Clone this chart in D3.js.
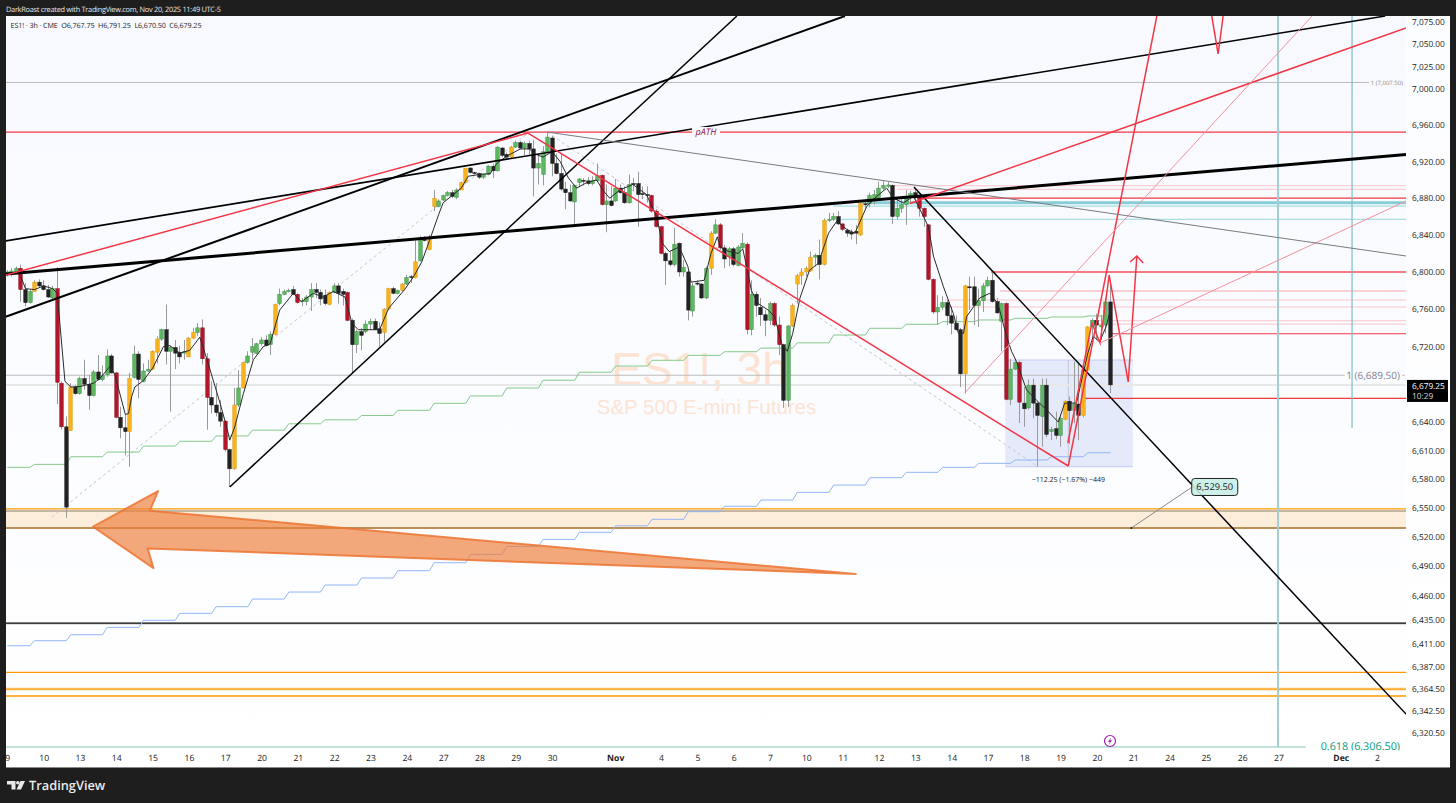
<!DOCTYPE html>
<html><head><meta charset="utf-8">
<script src="https://cdnjs.cloudflare.com/ajax/libs/d3/7.8.5/d3.min.js"></script>
<style>html,body{margin:0;padding:0;background:#1e1e1e;overflow:hidden}svg{display:block}text{font-family:"Open Sans",sans-serif;text-rendering:geometricPrecision}</style>
</head><body><div id="chart"></div>
<script>
const headerText="DarkRoast created with TradingView.com, Nov 20, 2025 11:49 UTC-5";
const legendText="ES1! · 3h · CME  O6,767.75  H6,791.25  L6,670.50  C6,679.25";
const priceTicks=[7075,7050,7025,7000,6960,6920,6880,6840,6800,6760,6720,6640,6610,6580,6550,6520,6490,6460,6435,6411,6387,6364.5,6342.5,6320.5];
const timeTickBars=[0,8,16,24,32,40,48,56,64,72,80,88,96,104,112,120,133.9,144,152,160,168,176,184,192,200,208,216,224,232,240,248,256,264,272,280,293.7,301.7];
const timeTickLabels=["9","10","13","14","15","16","17","20","21","22","23","24","27","28","29","30","Nov","4","5","6","7","10","11","12","13","14","17","18","19","20","21","24","25","26","27","Dec","2"];

const opens=[6797,6797,6799,6804,6781,6767,6779,6789,6785,6781,
6772,6782,6681,6635,6631,6677,6670,6686,6680,6668,
6693,6685,6690,6710,6692,6645,6634,6630,6687,6712,
6683,6694,6696,6714,6728,6738,6715,6719,6714,6713,
6709,6729,6735,6740,6707,6666,6658,6650,6641,6611,
6591,6658,6676,6703,6714,6713,6723,6727,6722,6733,
6766,6776,6779,6781,6776,6768,6768,6773,6781,6778,
6775,6765,6778,6785,6779,6778,6748,6722,6736,6736,
6744,6747,6739,6735,6760,6782,6777,6780,6787,6795,
6794,6812,6835,6824,6871,6871,6878,6883,6886,6881,
6889,6897,6913,6908,6907,6903,6906,6915,6910,6935,
6928,6925,6936,6941,6935,6940,6934,6913,6906,6931,
6946,6918,6907,6890,6886,6876,6897,6899.5,6899,6896,
6899,6905,6873,6877,6877,6891,6886,6875,6896,6896,
6885,6884,6883,6866,6849,6820,6812,6808,6831,6800,
6800,6758,6788,6787,6772,6804,6842,6851,6826,6817,
6825,6807,6826,6830,6738,6776,6762,6754,6748,6766,
6743,6722,6663,6742,6787,6796,6800,6801,6816,6818,
6808,6856,6857,6860,6852,6845,6843,6844,6840,6874,
6874,6879,6880,6891,6893,6894,6860,6869,6873,6882,
6886,6881,6869,6851,6792,6757,6762,6767,6753,6745,
6738,6691,6784,6784,6764,6769,6785,6791,6768,6747,
6766,6664,6696,6703,6660,6655,6679,6660,6646,6679,
6630,6633,6626,6643,6662,6652,6659,6647,6695,6741,
6748,6741,6743,6767.75];
const highs=[6802,6804,6806,6808,6788,6781,6791,6792,6791,6786,
6785,6805,6683,6646,6681,6679,6688,6706,6690,6695,
6711,6700,6717,6712,6693,6656,6648,6692,6721,6715,
6702,6706,6716,6731,6739,6765,6721,6727,6721,6727,
6730,6740,6745,6749,6713,6683,6681,6663,6642,6612,
6676,6695,6704,6715,6729,6724,6730,6732,6736,6766,
6782,6781,6782,6785,6777,6772,6775,6788,6788,6781,
6781,6779,6788,6788,6782,6779,6750,6738,6740,6748,
6750,6750,6746,6761,6783,6784,6781,6788,6797,6797,
6834,6839,6839,6840,6889,6879,6884,6888,6889,6891,
6898,6913,6914,6909,6908,6907,6916,6918,6937,6936,
6930,6937,6943,6943,6942,6943,6944,6929,6937,6953,
6948,6929,6929,6898,6895,6895,6902,6902,6903,6904,
6918,6906,6895,6893,6901,6895,6893,6906,6902,6909,
6893,6893,6884,6868,6850,6822,6822,6848,6832,6813,
6801,6788,6791,6788,6806,6844,6857,6853,6829,6827,
6827,6829,6842,6832,6791,6779,6772,6759,6768,6768,
6752,6723,6743,6766,6798,6804,6806,6822,6820,6835,
6858,6864,6864,6866,6853,6847,6846,6851,6875,6877,
6886,6889,6898,6899,6898,6895,6880,6879,6889,6888,
6891,6883,6870,6852,6793,6775,6774,6770,6763,6753,
6740,6786,6795,6795,6782,6788,6795,6800,6772,6767,
6767,6707,6707,6705,6677,6685,6686,6661,6686,6686,
6635,6651,6646,6663,6667,6704,6704,6702,6742,6750,
6755,6754,6772,6791.25];
const lows=[6795,6795,6798,6768,6763,6766,6779,6783,6780,6772,
6770,6659,6632,6540,6631,6669,6669,6674,6653,6667,
6684,6683,6688,6691,6644,6623,6605,6593,6686,6665,
6682,6693,6695,6702,6726,6701,6651,6696,6702,6706,
6709,6728,6731,6701,6632,6649,6646,6635,6609,6572,
6590,6656,6676,6702,6706,6712,6721,6720,6711,6732,
6764,6775,6778,6775,6766,6763,6764,6758,6772,6764,
6764,6764,6777,6766,6764,6747,6692,6713,6716,6734,
6738,6738,6720,6725,6759,6776,6776,6779,6786,6788,
6793,6811,6833,6824,6866,6870,6877,6882,6880,6879,
6889,6896,6907,6906,6901,6901,6905,6902,6909,6925,
6923,6924,6935,6933,6927,6926,6882,6895,6894,6929,
6904,6906,6888,6868,6876,6851,6892,6894,6894,6894,
6898,6872,6843,6871,6876,6885,6874,6874,6888,6849,
6879,6875,6864,6848,6819,6786,6806,6806,6795,6795,
6748,6752,6785,6771,6771,6797,6841,6824,6804,6806,
6806,6806,6825,6733,6732,6752,6742,6731,6743,6741,
6711,6655,6656,6741,6766,6786,6795,6800,6806,6792,
6807,6854,6855,6851,6844,6838,6835,6830,6839,6868,
6870,6873,6879,6889,6891,6852,6857,6864,6851,6875,
6875,6860,6849,6791,6755,6743,6759,6743,6733,6737,
6677,6670,6759,6743,6741,6757,6784,6767,6755,6715,
6663,6658,6695,6639,6635,6653,6644,6593,6614,6624,
6621,6622,6614,6642,6617,6639,6621,6645,6694,6727,
6727,6727,6734,6670.5];
const closes=[6800,6801,6804,6781,6767,6779,6789,6785,6781,6773,
6782,6682,6635,6551,6677,6670,6686,6680,6668,6693,
6685,6689,6710,6692,6645,6634,6630,6686,6712,6685,
6694,6696,6715,6728,6738,6715,6719,6713,6709,6715,
6729,6735,6740,6707,6666,6658,6650,6641,6611,6591,
6658,6676,6703,6710,6720,6723,6727,6721,6733,6765,
6776,6779,6780,6776,6767,6769,6773,6781,6778,6771,
6766,6778,6785,6777,6776,6748,6722,6736,6732,6744,
6747,6738,6734,6760,6782,6777,6780,6787,6794,6794,
6811,6834,6834,6835,6880,6877,6883,6886,6882,6889,
6897,6913,6908,6907.5,6903,6906,6915,6910,6936,6927,
6925,6936,6941,6935,6940,6934,6913,6918,6931,6947,
6918,6907,6890,6886,6877,6894,6901,6899,6896,6899,
6905,6873,6877,6872,6891,6886,6875,6895,6895.5,6884,
6884,6883.5,6866,6849,6820,6812,6808,6830,6800,6805,
6759,6785,6787,6772,6804,6842,6851,6826,6814,6825,
6808,6827,6831,6738,6776,6764,6754,6748,6766,6743,
6722,6663,6742,6764,6796,6800,6804,6816,6818,6808,
6856,6857,6860,6852,6846,6842,6841,6842,6874,6873.5,
6883,6884,6891,6894,6894.5,6860,6869,6873,6882,6885,
6882,6869,6860,6792,6757,6762,6767,6753,6745,6738,
6691,6785,6783.5,6764,6769,6785,6791,6768,6756,6766,
6664,6696,6703,6661,6654,6679,6660,6647,6679,6627,
6632,6626,6644,6662,6652,6659,6647,6695,6741,6748,
6743,6743,6767.75,6679.25];
const highlightedBars=[6,14,27,32,33,40,41,50,52,59,71,83,84,87,90,93,94,100,101,111,155,173,174,175,176,177,180,188,211,233,237,238,
3,11,12,24,43,44,48,64,75,131,142,143,144,157,163,169,170,184,201,202,203,204,220,223];

const maBars=[3,4,6,8,10,11,12.7,14,16,19,20.4,22.6,23.7,26,26.7,27.4,28.1,30,32,34.4,35.8,38,40.2,42.4,44,46.8,48.3,49,50.1,52,54.2,56.4,57.9,60,63,64.8,67.4,69.6,71.8,74.4,75.9,77.3,79.1,82,84,87.5,89.5,91.3,93,95,96,100,101.5,104,106.4,107.8,110,113,115,116,118,120,121.8,123.6,125.4,127.6,129.8,131.3,132.7,134.9,137.8,140.8,143,144.3,145.8,148,149.9,150.6,153.5,155,156.4,157,159,161,162,163,163.9,165.4,167.6,169,170.6,171.8,173,174.6,176.7,178.6,180.9,182.7,184.9,186.7,189.3,191.5,193.7,195.2,197.4,199.6,201.4,202.9,204,206.2,208.4,209.5,210.6,211.3,214.2,216.4,218.2,220.1,221.2,222.3,224.5,226.7,228.9,231.5,232.9,235.5,237,238,239.2,240.6,242,243];
const maPrices=[6795,6782,6781,6785,6782,6777,6683,6677,6677.6,6681,6686,6699,6690,6648,6649,6667,6677,6684,6697,6720,6721,6713,6716,6730,6706,6661,6635,6621,6635,6670,6706,6720,6723,6759,6777,6768,6777,6773,6779,6773,6745,6738,6738,6738,6761,6781,6795,6811,6834,6862,6875,6891,6904,6906,6907,6918,6926,6934,6934,6929,6925,6931,6920,6902,6891,6897,6900,6888,6880,6889,6895,6884,6860,6831,6822,6827,6806,6789,6791,6820,6838,6827,6822,6820,6825,6802,6780,6766,6759,6752,6723,6715,6734,6772,6802,6809,6842,6855,6846,6842,6871,6882,6891,6880,6875,6882,6864,6849,6817,6784,6755,6734,6734,6752,6772,6777,6766,6731,6715,6704,6674,6663,6653,6640,6660,6660,6692,6713,6731,6725,6741,6759];

const stepBars=[-1,5,13,21,29,37,45,53,61,69,77,85,93,101,109,117,125,133,141,149,157,165,173,181,189,197,205,213,221,229,237,243];
const greenAverage=[6592.5,6595.6,6603.6,6608.5,6614.8,6619.8,6625.4,6631.5,6638.2,6642.4,6646.9,6652.4,6659.8,6667.6,6676,6684.2,6692.7,6699.3,6705.4,6710.7,6714.5,6718.4,6724,6732.3,6739.5,6743.8,6746.6,6748.4,6750.2,6751.6,6752.7];
const blueAverage=[6408.6,6413.7,6419.8,6427.3,6434.5,6441.6,6448.4,6456.2,6463.4,6470.6,6477.8,6485.3,6493.5,6502.1,6510.3,6517.6,6524.9,6531.7,6538.4,6546.3,6551.9,6558.4,6566.4,6574,6581.7,6587.3,6592.5,6596.7,6600.2,6603.6,6607.8];

// level: price, first bar, kind
const levelPrices=[7007.5,6952.6,6893.6,6889.7,6880,6875,6871.4,6857,6800,6779.5,6769.8,6762.3,6747.6,6744,6733.7,6689.5,6679.25,6665,6549.2,6547,6529.5,6431.7,6381.6,6364.7,6357.7,6306.5];
const levelStarts=[-1,-1,195.1,196,200.4,189.4,181.9,183.4,216.7,218.6,206.5,206.5,238.5,238.5,242.9,-1,-1,236.9,-1,-1,-1,-1,-1,-1,-1,-1];
const levelEnds=[300,308.2,308.2,308.2,308.2,308.2,308.2,308.2,308.2,308.2,308.2,308.2,308.2,308.2,308.2,294.6,308.2,308.2,308.2,308.2,308.2,308.2,308.2,308.2,308.2,286];
const levelKinds=["gray","red","pale","pale","red","tealThick","teal","teal","redStrong","paleThick","pale","pale","pale","pale","red","gray","lastPrice","red","orange","brownThin","brown","black","orange","orangeGlow","orange","fib"];

const lineBars=[[-0.3,308.1],[-0.5,303.5],[-0.5,184.5],[49,160.7],[199.7,308.1],[-0.3,114.7],[114.7,233.7],[233.7,253.2],[265.3,266.7,267.8],[233.6,238.9,240.7,242.7,246.9,248.8],[247.3,248.8,250.2],[198.8,308.1],[210.9,287.4],[240.7,308.1],[118.9,308.1],[9.8,114.7],[118.9,226.8]];
const linePrices=[[6797.8,6927.8],[6833.5,7081.7],[6751.6,7081.7],[6572,7081.7],[6892.3,6339.5],[6796.7,6951.5],[6951.5,6593.9],[6593.9,7081.7],[7081.7,7039.2,7081.7],[6618,6745.2,6723.8,6796.7,6682.4,6817.2],[6810.8,6817.2,6809.7],[6874.2,7068.3],[6670.7,7081.7],[6723.8,6877],[6952.6,6817.2],[6540.7,6951.5],[6952.6,6593.9]];
const lineKinds=["blackHeavy","blackMid","blackBold","black","black","redLine","redLine","redLine","redLine","redLine","redLine","redLine","redThin","redThin","grayThin","dash","dash"];

const arrowBars=[18.9,33.2,31.4,186.9,30.9,32.2];
const arrowPrices=[6530.7,6567.8,6547.3,6482,6508.3,6488];
const boxBars=[219.8,247.9];
const boxPrices=[6705.7,6593.2];
const verticalBars=[279.9,296.2];
const verticalEndPrices=[6000,6633.7];
const bandPrices=[6547,6529.5];

const lineStyles={
 blackHeavy:{c:"#000",w:3},blackMid:{c:"#000",w:1.6},blackBold:{c:"#000",w:2},black:{c:"#000",w:1.5},
 redLine:{c:"#f23645",w:1.5},redThin:{c:"#f4909c",w:1},grayThin:{c:"#787b80",w:1},dash:{c:"#c4c6cc",w:1,d:"3 3"}
};
const levelStyles={
 gray:{c:"#bcbcbc",w:1},red:{c:"#f23645",w:1.2},redStrong:{c:"#f2505e",w:1.6},pale:{c:"#f9c5cb",w:1},paleThick:{c:"#f9d0d5",w:2},
 tealThick:{c:"#86cfd6",w:3},teal:{c:"#a9dde2",w:1.2},lastPrice:{c:"#e8e8e8",w:2},orange:{c:"#ff9800",w:1.3},brownThin:{c:"#8a7a5c",w:1},
 brown:{c:"#b98f57",w:2},black:{c:"#000",w:1.3},orangeGlow:{c:"#ff9800",w:1.3},fib:{c:"#85c6b8",w:1}
};

const W=1456,H=803,L=6,R=1406,T=16,B=768,AX=1450;
const x=d3.scaleLinear().domain([0,300]).range([7.3,7.3+4.54*300]);
const y=d3.scaleLog().domain([6320.5,7075]).range([733,22]);
const svg=d3.select("#chart").append("svg").attr("width",W).attr("height",H);
const defs=svg.append("defs");
const g0=defs.append("linearGradient").attr("id","bg").attr("x1",0).attr("x2",0).attr("y1",0).attr("y2",1);
g0.append("stop").attr("offset","0").attr("stop-color","#f7f9ff");
g0.append("stop").attr("offset","1").attr("stop-color","#ffffff");
defs.append("clipPath").attr("id","plot").append("rect").attr("x",L).attr("y",T).attr("width",R-L).attr("height",734.5);

svg.append("rect").attr("width",W).attr("height",H).attr("fill","#1e1e1e");
svg.append("rect").attr("x",L).attr("y",T).attr("width",AX-L).attr("height",B-T).attr("fill","url(#bg)");
svg.append("rect").attr("x",R).attr("y",T).attr("width",AX-R).attr("height",B-T).attr("fill","#ffffff").attr("fill-opacity",.6);

svg.append("text").attr("x",6).attr("y",11.5).attr("fill","#e8e8e8").attr("font-size",7.4).attr("textLength",215).attr("lengthAdjust","spacing").text(headerText);
svg.append("text").attr("x",10.5).attr("y",27.5).attr("fill","#222").attr("font-size",7.2).style("white-space","pre").attr("xml:space","preserve").attr("textLength",191).attr("lengthAdjust","spacing").text(legendText);

const plot=svg.append("g").attr("clip-path","url(#plot)");

// watermark
plot.append("text").attr("x",699.5).attr("y",385).attr("text-anchor","middle").attr("font-size",46).attr("fill","#fce3d3").style("font-family","Liberation Sans").text("ES1!, 3h");
plot.append("text").attr("x",706.5).attr("y",414).attr("text-anchor","middle").attr("font-size",20.5).attr("fill","#fce3d3").style("font-family","Liberation Sans").text("S&P 500 E-mini Futures");

// band
plot.append("rect").attr("x",L).attr("width",R-L).attr("y",y(bandPrices[0])).attr("height",y(bandPrices[1])-y(bandPrices[0])).attr("fill","#fdeedb");
// glow under the black and orange levels
plot.append("line").attr("x1",L).attr("x2",R).attr("y1",y(6431.7)+1.3).attr("y2",y(6431.7)+1.3).attr("stroke","#dedede").attr("stroke-width",1.2);
plot.append("line").attr("x1",L).attr("x2",R).attr("y1",y(6364.7)).attr("y2",y(6364.7)).attr("stroke","#ffe0b2").attr("stroke-width",3);

// measure box
const bx=plot.append("g");
bx.append("rect").attr("x",x(boxBars[0])).attr("width",x(boxBars[1])-x(boxBars[0])).attr("y",y(boxPrices[0])).attr("height",y(boxPrices[1])-y(boxPrices[0])).attr("fill","#e5eafb");
boxPrices.forEach(p=>bx.append("line").attr("x1",x(boxBars[0])).attr("x2",x(boxBars[1])).attr("y1",y(p)).attr("y2",y(p)).attr("stroke","#c4c9f2").attr("stroke-width",1));
bx.append("line").attr("x1",x(233.7)).attr("x2",x(233.7)).attr("y1",y(boxPrices[0])).attr("y2",y(boxPrices[1])).attr("stroke","#c2c6dc").attr("stroke-width",1);

// levels
levelPrices.forEach((p,i)=>{const s=levelStyles[levelKinds[i]];
 plot.append("line").attr("x1",x(levelStarts[i])).attr("x2",x(levelEnds[i])).attr("y1",y(p)).attr("y2",y(p)).attr("stroke",s.c).attr("stroke-width",s.w);});

// verticals
verticalBars.forEach((b,i)=>{plot.append("line").attr("x1",x(b)).attr("x2",x(b)).attr("y1",T).attr("y2",i==0?747:y(verticalEndPrices[i])).attr("stroke",i==0?"#a3cdd2":"#7fbcc2").attr("stroke-width",i==0?2:1.2);});

const pathOf=(bars,prices)=>d3.line()(bars.map((b,i)=>[x(b),y(prices[i])]));

// dashed first
lineBars.forEach((b,i)=>{if(lineKinds[i]!=="dash")return;const s=lineStyles.dash;
 plot.append("path").attr("d",pathOf(b,linePrices[i])).attr("fill","none").attr("stroke",s.c).attr("stroke-width",s.w).attr("stroke-dasharray",s.d);});

// step averages
function stepPath(vals){const pts=[];vals.forEach((v,k)=>{pts.push([x(stepBars[k]+1),y(v)]);pts.push([x(stepBars[k+1]),y(v)]);});return d3.line()(pts);}
plot.append("path").attr("d",stepPath(greenAverage)).attr("fill","none").attr("stroke","#86c98b").attr("stroke-width",1);
plot.append("path").attr("d",stepPath(blueAverage)).attr("fill","none").attr("stroke","#93b5f7").attr("stroke-width",1);

// candles
const hi=new Set(highlightedBars);
const cg=plot.append("g");
opens.forEach((o,i)=>{
 const up=closes[i]>=o, flag=hi.has(i);
 const fill=up?(flag?"#f7b21c":"#5db761"):(flag?"#b2162a":"#222222");
 const edge=up?(flag?"#dd9a0a":"#3d8f44"):(flag?"#8e1020":"#1a1a1a");
 const cx=Math.floor(x(i))+.5;
 cg.append("line").attr("x1",cx).attr("x2",cx).attr("y1",y(highs[i])).attr("y2",y(lows[i])).attr("stroke","#9a9a9a").attr("stroke-width",1);
 const t=y(Math.max(o,closes[i])),b=y(Math.min(o,closes[i]));
 cg.append("rect").attr("x",cx-1.75).attr("width",3.5).attr("y",t).attr("height",Math.max(b-t,1)).attr("fill",fill).attr("stroke",edge).attr("stroke-width",.5);
});

// moving average
plot.append("path").attr("d",pathOf(maBars,maPrices)).attr("fill","none").attr("stroke","#2a2a2a").attr("stroke-width",1);

// trend lines
lineBars.forEach((b,i)=>{if(lineKinds[i]==="dash")return;const s=lineStyles[lineKinds[i]];
 plot.append("path").attr("d",pathOf(b,linePrices[i])).attr("fill","none").attr("stroke",s.c).attr("stroke-width",s.w);});

// big arrow
plot.append("path").attr("d",pathOf(arrowBars,arrowPrices)+"Z").attr("fill","#ee7f3d").attr("fill-opacity",.68).attr("stroke","#ec7431").attr("stroke-width",2).attr("stroke-linejoin","round").attr("stroke-opacity",.85);

// pATH
const pax=x(153.9),pay=y(6952.6);
plot.append("rect").attr("x",pax-14).attr("y",pay-5).attr("width",28).attr("height",10).attr("fill","#f8f9ff");
plot.append("text").attr("x",pax).attr("y",pay+3).attr("text-anchor","middle").attr("font-size",9).attr("font-style","italic").attr("fill","#880e4f").text("pATH");

// measure label
plot.append("text").attr("x",x(233.7)).attr("y",y(6580.2)+2.5).attr("text-anchor","middle").attr("font-size",7).attr("fill","#222").text("−112.25 (−1.67%) −449");

// callout
const cdx=x(247.6),cdy=y(6529.5),clx=x(261),cly=y(6572);
plot.append("line").attr("x1",cdx).attr("y1",cdy).attr("x2",clx).attr("y2",cly).attr("stroke","#888").attr("stroke-width",1);
plot.append("circle").attr("cx",cdx).attr("cy",cdy).attr("r",1).attr("fill","#222");
plot.append("rect").attr("x",clx-.5).attr("y",cly-8.5).attr("width",46).attr("height",17).attr("rx",3).attr("fill","#c9eee9").attr("fill-opacity",.9).attr("stroke","#222").attr("stroke-width",1);
plot.append("text").attr("x",clx+22.5).attr("y",cly+3.5).attr("text-anchor","middle").attr("font-size",9.3).attr("fill","#222").text("6,529.50");

// level labels
plot.append("text").attr("x",1403).attr("y",y(7007.5)+2.2).attr("text-anchor","end").attr("font-size",6).attr("fill","#888").text("1 (7,007.50)");
plot.append("text").attr("x",1400).attr("y",y(6689.5)+3.5).attr("text-anchor","end").attr("font-size",10).attr("fill","#80838c").text("1 (6,689.50)");
plot.append("line").attr("x1",1402).attr("x2",1405).attr("y1",y(6689.5)).attr("y2",y(6689.5)).attr("stroke","#bcbcbc");
plot.append("text").attr("x",1400).attr("y",y(6306.5)+2.7).attr("text-anchor","end").attr("font-size",10.8).attr("fill","#089981").text("0.618 (6,306.50)");

// lightning icon
const ic=plot.append("g").attr("transform","translate(1110,741)");
ic.append("circle").attr("r",5.5).attr("fill","#fff").attr("stroke","#a21caf").attr("stroke-width",1.2);
ic.append("path").attr("d","M1,-3.5 L-2,0.8 L-0.2,0.8 L-1,3.5 L2,-0.8 L0.2,-0.8 Z").attr("fill","#a21caf");

// price axis
const ya=svg.append("g").attr("transform",`translate(${R+6},0)`).call(d3.axisRight(y).tickValues(priceTicks).tickSize(0).tickPadding(0).tickFormat(d3.format(",.2f")));
ya.select(".domain").remove();
ya.selectAll("text").attr("font-size",8.3).attr("fill","#222").style("font-family","Open Sans");

// last price
svg.append("rect").attr("x",R+1).attr("y",y(6679.25)-5).attr("width",41).attr("height",22).attr("fill","#000");
svg.append("text").attr("x",R+6).attr("y",y(6679.25)+4.5).attr("font-size",8.3).attr("fill","#fff").text("6,679.25");
svg.append("text").attr("x",R+6).attr("y",y(6679.25)+14.5).attr("font-size",8.3).attr("fill","#ddd").text("10:29");

// time axis
const xa=svg.append("g").attr("transform","translate(0,751)").call(d3.axisBottom(x).tickValues(timeTickBars).tickSize(0).tickPadding(4).tickFormat((d,i)=>timeTickLabels[i]));
xa.select(".domain").remove();
xa.selectAll("text").attr("font-size",8.6).attr("fill","#222").style("font-family","Open Sans").attr("font-weight",(d,i)=>(timeTickLabels[i]==="Nov"||timeTickLabels[i]==="Dec")?700:400);
svg.append("rect").attr("x",0).attr("y",751).attr("width",L).attr("height",20).attr("fill","#1e1e1e");
svg.append("line").attr("x1",L).attr("x2",AX).attr("y1",767.5).attr("y2",767.5).attr("stroke","#888").attr("stroke-width",1);

// brand
const logo=svg.append("g").attr("transform","translate(7,781)").attr("fill","#e9e9e9");
logo.append("path").attr("d","M0,0H8.5V8.5H4.5V3.5H0Z");
logo.append("circle").attr("cx",10.8).attr("cy",1.8).attr("r",1.8);
logo.append("path").attr("d","M13.5,0H18L14,8.5H9.5Z");
svg.append("text").attr("x",29).attr("y",790).attr("font-size",12.8).attr("font-weight",600).attr("fill","#e9e9e9").text("TradingView");
</script></body></html>
